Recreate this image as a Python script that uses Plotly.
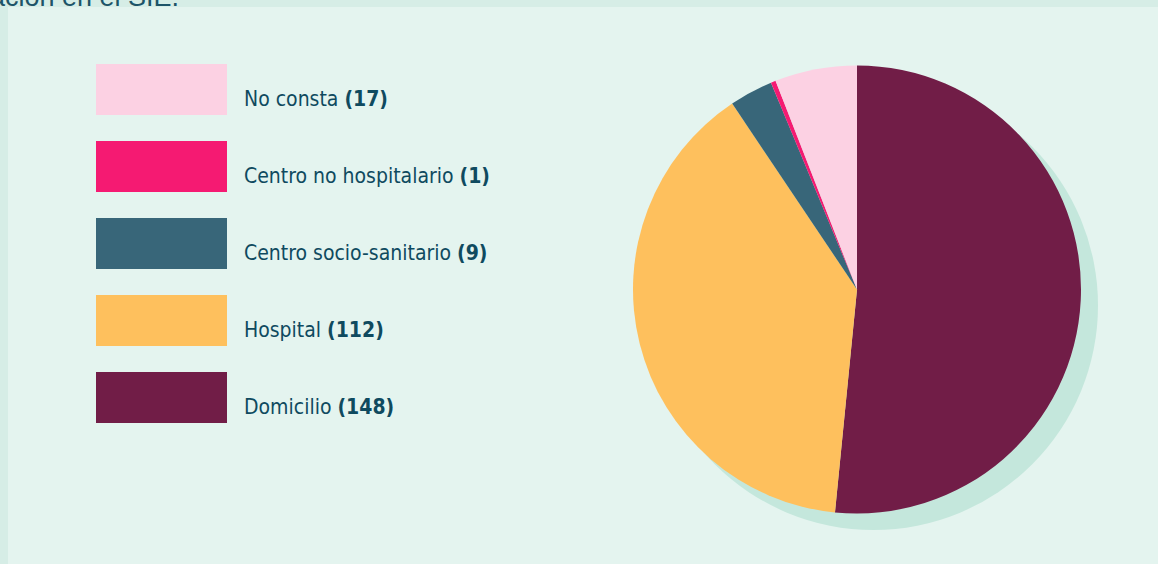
import plotly.graph_objects as go

categories = ["Domicilio", "Hospital", "Centro socio-sanitario", "Centro no hospitalario", "No consta"]
values = [148, 112, 9, 1, 17]
colors = ["#711d47", "#fec05d", "#386679", "#f51a72", "#fcd1e3"]

legend_order = ["No consta", "Centro no hospitalario", "Centro socio-sanitario", "Hospital", "Domicilio"]

W, H = 1158, 564
BG = "#e4f4ef"
STRIP = "#d6ede6"
TEXT = "#0f4a5f"

def px_x(x):
    return x / W

def px_y(y):
    return 1 - y / H

fig = go.Figure()

# shadow pie
fig.add_trace(go.Pie(
    values=[sum(values)], labels=["shadow"],
    marker=dict(colors=["#c4e7dc"], line=dict(width=0)),
    textinfo="none", hoverinfo="skip", sort=False, showlegend=False,
    domain=dict(x=[px_x(649), px_x(1098)], y=[px_y(530), px_y(81)]),
))

fig.add_trace(go.Pie(
    values=values, labels=categories,
    marker=dict(colors=colors, line=dict(width=0)),
    textinfo="none", sort=False, direction="clockwise", rotation=0,
    showlegend=False,
    domain=dict(x=[px_x(633), px_x(1081)], y=[px_y(514), px_y(65)]),
))

shapes = [
    dict(type="rect", xref="paper", yref="paper", x0=0, x1=1, y0=px_y(7), y1=1,
         fillcolor=STRIP, line=dict(width=0), layer="below"),
    dict(type="rect", xref="paper", yref="paper", x0=0, x1=px_x(8), y0=0, y1=1,
         fillcolor=STRIP, line=dict(width=0), layer="below"),
]
annotations = []
vals = dict(zip(categories, values))
cols = dict(zip(categories, colors))
for i, name in enumerate(legend_order):
    top = 64 + i * 77
    shapes.append(dict(type="rect", xref="paper", yref="paper",
                       x0=px_x(96), x1=px_x(227), y0=px_y(top + 51), y1=px_y(top),
                       fillcolor=cols[name], line=dict(width=0)))
    annotations.append(dict(xref="paper", yref="paper", x=px_x(244), y=px_y(top + 35),
                            xanchor="left", yanchor="middle", showarrow=False, xshift=-2,
                            text=f"{name} <b>({vals[name]})</b>",
                            font=dict(family="Liberation Sans Narrow, DejaVu Sans Condensed, sans-serif",
                                      size=21, color=TEXT)))

annotations.append(dict(xref="paper", yref="paper", x=0, y=1, xanchor="left", yanchor="bottom",
                        yshift=-14, xshift=-12, showarrow=False, text="ación en el SIE.",
                        font=dict(family="Liberation Sans, sans-serif", size=27, color="#1d5468")))

fig.update_layout(
    width=W, height=H, margin=dict(l=0, r=0, t=0, b=0),
    paper_bgcolor=BG, plot_bgcolor=BG,
    shapes=shapes, annotations=annotations,
)

fig.write_html("out.html", config={"displayModeBar": False},
               post_script="document.body.style.margin='0';document.body.style.padding='0';document.body.style.background='#e4f4ef';")
